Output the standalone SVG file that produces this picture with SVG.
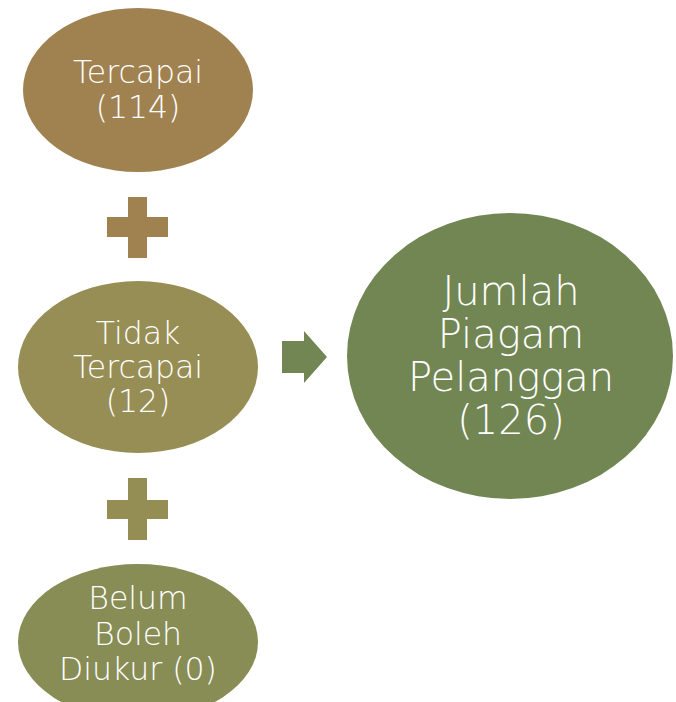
<svg xmlns="http://www.w3.org/2000/svg" width="676" height="702" viewBox="0 0 676 702">
<style>
.t{font-family:"DejaVu Sans","Liberation Sans",sans-serif;fill:#ffffff;text-anchor:middle;font-size:31.5px;font-weight:200}
.b{font-size:40px}
</style>
<rect width="676" height="702" fill="#ffffff"/>
<g id="connectors">
<path id="plus1" d="M128 197H147V217H168V237H147V258H128V237H107V217H128Z" fill="#A08250"/>
<path id="plus2" d="M128 478H147V500H168V519H147V540H128V519H107V500H128Z" fill="#948E55"/>
<path id="arrow" d="M282 341H304V331L327 357L304 383V373H282Z" fill="#718653"/>
</g>
<g id="tercapai">
<ellipse cx="138" cy="90" rx="115" ry="82" fill="#A08250"/>
<text class="t" x="138" y="83">Tercapai</text>
<text class="t" x="138" y="118">(114)</text>
</g>
<g id="tidak-tercapai">
<ellipse cx="138" cy="367" rx="120" ry="86" fill="#978E55"/>
<text class="t" x="138" y="344">Tidak</text>
<text class="t" x="138" y="378">Tercapai</text>
<text class="t" x="138" y="412">(12)</text>
</g>
<g id="belum-boleh-diukur">
<ellipse cx="138" cy="642" rx="120" ry="78" fill="#878D55"/>
<text class="t" x="138" y="609">Belum</text>
<text class="t" x="138" y="645">Boleh</text>
<text class="t" x="138" y="680">Diukur (0)</text>
</g>
<g id="jumlah">
<ellipse cx="510" cy="356" rx="163" ry="143" fill="#718653"/>
<text class="t b" x="511" y="305">Jumlah</text>
<text class="t b" x="511" y="348">Piagam</text>
<text class="t b" x="511" y="391">Pelanggan</text>
<text class="t b" x="511" y="434">(126)</text>
</g>
</svg>
